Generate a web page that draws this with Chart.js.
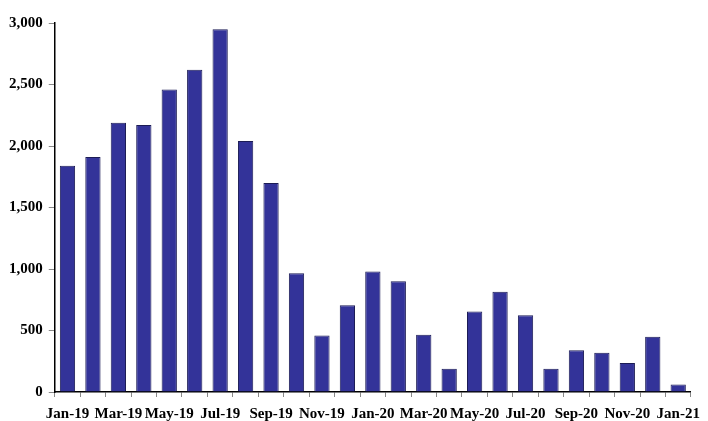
<!DOCTYPE html>
<html>
<head>
<meta charset="utf-8">
<script src="https://cdn.jsdelivr.net/npm/chart.js@4.4.0/dist/chart.umd.min.js"></script>
<style>
  html, body { margin: 0; padding: 0; background: #fff; overflow: hidden; }
  canvas { display: block; }
</style>
</head>
<body>
<canvas id="monthlyChart" width="708" height="421"></canvas>
<script>
// Monthly counts, Jan-19 through Jan-21
const months = ['Jan-19', 'Feb-19', 'Mar-19', 'Apr-19', 'May-19', 'Jun-19', 'Jul-19', 'Aug-19', 'Sep-19',
    'Oct-19', 'Nov-19', 'Dec-19', 'Jan-20', 'Feb-20', 'Mar-20', 'Apr-20', 'May-20', 'Jun-20',
    'Jul-20', 'Aug-20', 'Sep-20', 'Oct-20', 'Nov-20', 'Dec-20', 'Jan-21'];
const counts = [1840, 1910, 2190, 2170, 2460, 2620, 2950, 2040, 1700,
    965, 460, 705, 980, 900, 465, 190, 655, 815,
    625, 190, 340, 320, 235, 450, 60];
const yTicks = [0, 500, 1000, 1500, 2000, 2500, 3000];

const labelFont = { family: "'Liberation Serif', 'Times New Roman', serif", size: 15, weight: 'bold' };

document.addEventListener('DOMContentLoaded', function() {
    const ctx = document.getElementById('monthlyChart');

    new Chart(ctx, {
        type: 'bar',
        data: {
            labels: months,
            datasets: [{
                data: counts,
                backgroundColor: '#333399',
                borderColor: '#1c1c55',
                borderWidth: 1,
                barPercentage: 0.6,
                categoryPercentage: 1.0
            }]
        },
        options: {
            responsive: false,
            animation: false,
            layout: { padding: { top: 23, right: 6, left: 3, bottom: -10 } },
            plugins: {
                legend: { display: false },
                tooltip: { enabled: false }
            },
            scales: {
                x: {
                    grid: {
                        display: true,
                        drawOnChartArea: false,
                        offset: true,
                        tickLength: 5,
                        color: '#888'
                    },
                    border: { display: true, color: '#000', width: 1.5 },
                    ticks: {
                        autoSkip: false,
                        maxRotation: 0,
                        padding: 8,
                        color: '#000',
                        font: labelFont,
                        callback: function(value, index) {
                            return index % 2 === 0 ? months[index] : '';
                        }
                    }
                },
                y: {
                    min: 0,
                    max: 3000,
                    afterBuildTicks: function(axis) {
                        axis.ticks = yTicks.map(v => ({ value: v }));
                    },
                    grid: {
                        display: true,
                        drawOnChartArea: false,
                        tickLength: 6,
                        color: '#888'
                    },
                    border: { display: true, color: '#000', width: 1.5 },
                    ticks: {
                        padding: 6,
                        color: '#000',
                        font: labelFont,
                        callback: function(value) {
                            return value.toLocaleString('en-US');
                        }
                    }
                }
            }
        }
    });
});
</script>
</body>
</html>
